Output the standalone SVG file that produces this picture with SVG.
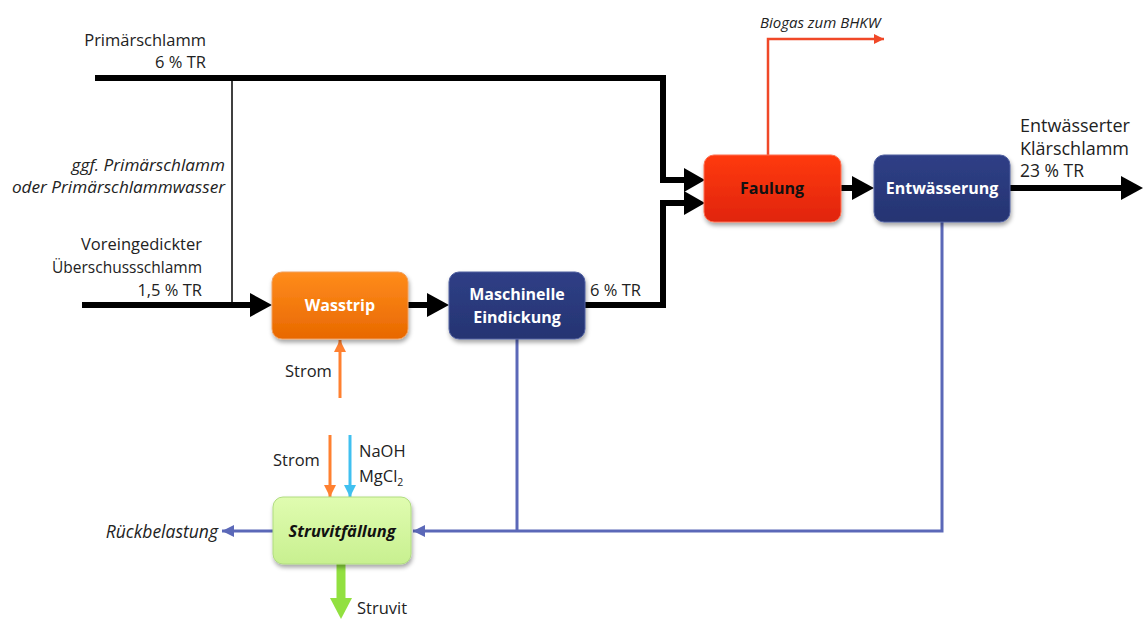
<svg xmlns="http://www.w3.org/2000/svg" width="1143" height="619" viewBox="0 0 1143 619">
<style>
text{font-family:"Open Sans","Liberation Sans",sans-serif;font-size:16.5px;fill:#222}
.it{font-style:italic}
.lbl{font-weight:bold;font-size:16px;text-anchor:middle}
.w{fill:#fff}
.end{text-anchor:end}
.blk{stroke:#000;stroke-width:6;fill:none}
.blue{stroke:#5b68b8;stroke-width:3;fill:none}
</style>
<defs>
<linearGradient id="gOr" x1="0" y1="0" x2="0" y2="1"><stop offset="0" stop-color="#ff8c1c"/><stop offset="1" stop-color="#e86800"/></linearGradient>
<linearGradient id="gNv" x1="0" y1="0" x2="0" y2="1"><stop offset="0" stop-color="#2f3f86"/><stop offset="1" stop-color="#253472"/></linearGradient>
<linearGradient id="gRd" x1="0" y1="0" x2="0" y2="1"><stop offset="0" stop-color="#ff3a10"/><stop offset="1" stop-color="#e02410"/></linearGradient>
<linearGradient id="gGr" x1="0" y1="0" x2="0" y2="1"><stop offset="0" stop-color="#e0fcb0"/><stop offset="1" stop-color="#c8f090"/></linearGradient>
<filter id="sh" x="-10%" y="-10%" width="130%" height="140%"><feDropShadow dx="1" dy="3" stdDeviation="2" flood-color="#000" flood-opacity="0.35"/></filter>
<marker id="aBlue" viewBox="0 0 10 10" refX="10" refY="5" markerWidth="5" markerHeight="4" orient="auto" markerUnits="strokeWidth"><path d="M0,0L10,5L0,10z" fill="#5b68b8"/></marker>
<marker id="aRed" viewBox="0 0 10 10" refX="10" refY="5" markerWidth="5" markerHeight="4" orient="auto" markerUnits="strokeWidth"><path d="M0,0L10,5L0,10z" fill="#f04828"/></marker>
<marker id="aOr" viewBox="0 0 10 10" refX="10" refY="5" markerWidth="4" markerHeight="4" orient="auto" markerUnits="strokeWidth"><path d="M0,0L10,5L0,10z" fill="#ff8030"/></marker>
<marker id="aCy" viewBox="0 0 10 10" refX="10" refY="5" markerWidth="4" markerHeight="4" orient="auto" markerUnits="strokeWidth"><path d="M0,0L10,5L0,10z" fill="#40c0f0"/></marker>
</defs>

<g id="connectors">
<path class="blk" d="M95,78H663V180H690"/>
<polygon points="684,168 705,180 684,192" fill="#000"/>
<path class="blk" d="M585,305H663V203H690"/>
<polygon points="684,191 705,203 684,215" fill="#000"/>
<line x1="232" y1="78" x2="232" y2="305" stroke="#000" stroke-width="1.5"/>
<path class="blk" d="M82,305H256"/>
<polygon points="250,293 272,305 250,317" fill="#000"/>
<path class="blk" d="M408,305H432"/>
<polygon points="427,293 449,305 427,317" fill="#000"/>
<path class="blk" d="M841,188H858"/>
<polygon points="852,176 874,188 852,200" fill="#000"/>
<path class="blk" d="M1010,188H1125"/>
<polygon points="1121,176 1143,188 1121,200" fill="#000"/>
<path d="M768,155V39H884" stroke="#f04828" stroke-width="2.5" fill="none" marker-end="url(#aRed)"/>
<path class="blue" d="M517,339V531"/>
<path class="blue" d="M942,222V531H413" marker-end="url(#aBlue)"/>
<path class="blue" d="M273,531H222" marker-end="url(#aBlue)"/>
<path d="M340,398V340" stroke="#ff8030" stroke-width="3" fill="none" marker-end="url(#aOr)"/>
<path d="M330,435V497" stroke="#ff8030" stroke-width="3" fill="none" marker-end="url(#aOr)"/>
<path d="M350,435V497" stroke="#40c0f0" stroke-width="3" fill="none" marker-end="url(#aCy)"/>
<path d="M341,564V600" stroke="#92e040" stroke-width="9" fill="none"/>
<polygon points="330,598 352,598 341,619" fill="#92e040"/>
</g>

<g id="labels">
<text class="end" x="206" y="46">Primärschlamm</text>
<text class="end" x="206" y="68">6 % TR</text>
<text class="end it" x="225" y="171" style="font-size:17.2px">ggf. Primärschlamm</text>
<text class="end it" x="225" y="193" style="font-size:17.2px">oder Primärschlammwasser</text>
<text class="end" x="202" y="250">Voreingedickter</text>
<text class="end" x="202" y="273" style="font-size:15.5px">Überschussschlamm</text>
<text class="end" x="202" y="296">1,5 % TR</text>
<text x="590" y="296">6 % TR</text>
<text x="1020" y="132" style="font-size:18px">Entwässerter</text>
<text x="1020" y="155" style="font-size:18px">Klärschlamm</text>
<text x="1020" y="177" style="font-size:17.5px">23 % TR</text>
<text class="it" x="760" y="28" style="font-size:15px">Biogas zum BHKW</text>
<text x="285" y="377">Strom</text>
<text x="273" y="466">Strom</text>
<text x="359" y="457">NaOH</text>
<text x="359" y="482">MgCl<tspan dy="4" style="font-size:10.5px">2</tspan></text>
<text class="end it" x="218" y="538" style="font-size:17.5px">Rückbelastung</text>
<text x="357" y="614">Struvit</text>
</g>

<g id="wasstrip">
<rect x="272" y="272" width="136" height="67" rx="10" fill="url(#gOr)" stroke="#f0a060" stroke-width="1" filter="url(#sh)"/>
<text class="lbl w" x="340" y="311">Wasstrip</text>
</g>
<g id="eindickung">
<rect x="449" y="272" width="136" height="67" rx="10" fill="url(#gNv)" stroke="#5060a0" stroke-width="1" filter="url(#sh)"/>
<text class="lbl w" x="517" y="300">Maschinelle</text>
<text class="lbl w" x="517" y="323">Eindickung</text>
</g>
<g id="faulung">
<rect x="704" y="155" width="137" height="67" rx="10" fill="url(#gRd)" stroke="#ff7050" stroke-width="1" filter="url(#sh)"/>
<text class="lbl" x="772" y="194" style="fill:#111">Faulung</text>
</g>
<g id="entwaesserung">
<rect x="874" y="155" width="136" height="67" rx="10" fill="url(#gNv)" stroke="#5060a0" stroke-width="1" filter="url(#sh)"/>
<text class="lbl w" x="942" y="194">Entwässerung</text>
</g>
<g id="struvitfaellung">
<rect x="273" y="497" width="138" height="67" rx="10" fill="url(#gGr)" stroke="#b0dc80" stroke-width="1" filter="url(#sh)"/>
<text class="lbl it" x="342" y="537" style="fill:#111;font-size:16.5px">Struvitfällung</text>
</g>
</svg>
